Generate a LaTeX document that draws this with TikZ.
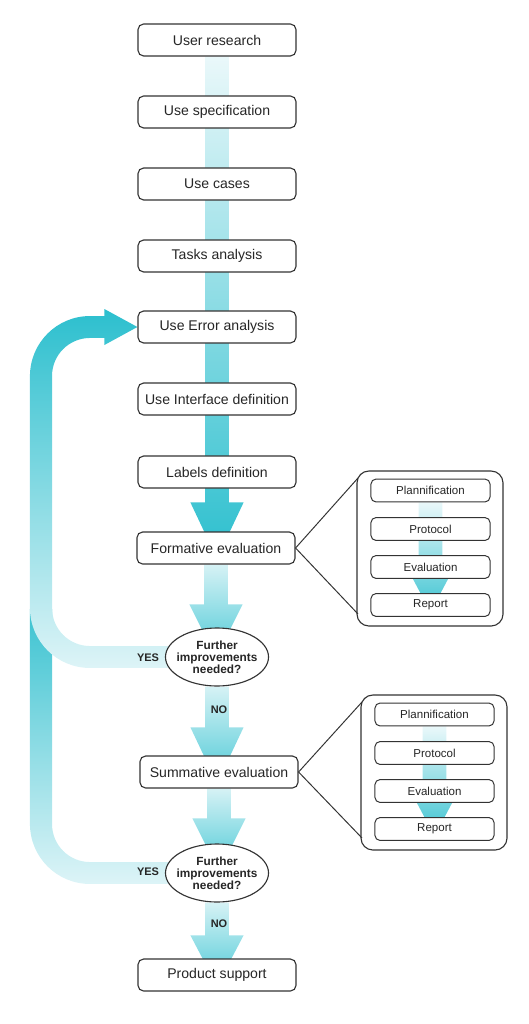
\documentclass[tikz,border=0pt]{standalone}
\usepackage{fontspec}
\setmainfont{Liberation Sans}
\usepackage{xcolor}
\usepackage{tikz}
\usetikzlibrary{shapes.geometric, positioning, backgrounds, calc}
\definecolor{flowteal}{HTML}{2CBFCE}
\definecolor{flowpale}{HTML}{EAF8FA}
\definecolor{flowmid}{HTML}{4CC9D6}
\definecolor{flowsoft}{HTML}{D6F2F5}
\definecolor{loopteal}{HTML}{3CC3D1}
\definecolor{looplight}{HTML}{DDF4F7}
\definecolor{edgegray}{HTML}{333333}
\tikzstyle{stage} = [rectangle, rounded corners=4pt, draw=edgegray, line width=0.8pt, fill=white, minimum width=3.95cm, minimum height=0.8cm, text centered, text=black!85, font=\fontsize{10}{12}\selectfont]
\tikzstyle{substage} = [rectangle, rounded corners=3.5pt, draw=edgegray, line width=0.7pt, fill=white, minimum width=2.975cm, minimum height=0.57cm, text centered, text=black!85, font=\fontsize{8.2}{10}\selectfont]
\tikzstyle{panel} = [rectangle, rounded corners=0.3cm, draw=edgegray, line width=0.8pt, minimum width=3.65cm, minimum height=3.875cm]
\tikzstyle{decision} = [ellipse, draw=edgegray, line width=0.8pt, fill=white, minimum width=2.575cm, minimum height=1.45cm, inner sep=0pt]
\tikzstyle{dectext} = [align=center, inner sep=0pt, text=black!85, font=\fontsize{8.4}{8.6}\selectfont\bfseries]
\tikzstyle{answer} = [text=black!85, font=\fontsize{7.8}{9}\selectfont\bfseries]
\tikzstyle{zoomline} = [draw=edgegray, line width=0.7pt]
% fat arrow: from, to, bar half width, head half width, head length, head to tip, shading
\newcommand{\flowarrow}[7]{%
  \shade[#7] let \p1=(#1.south), \p2=(#2.north) in
    (\x1-#3,\y1) -- (\x1+#3,\y1) -- (\x1+#3,\y2+#5) -- (\x1+#4,\y2+#5)
    -- (\x1,\y2+#5-#6) -- (\x1-#4,\y2+#5) -- (\x1-#3,\y2+#5) -- cycle;}

\begin{document}
\begin{tikzpicture}[x=0.025cm, y=-0.025cm]
    \useasboundingbox (0,0) rectangle (528,1024);

    % Stages
    \node (research) at (217,40) [stage] {User research};
    \node (spec) at (217,112) [stage] {Use specification};
    \node (cases) at (217,184) [stage] {Use cases};
    \node (tasks) at (217,256) [stage] {Tasks analysis};
    \node (errana) at (217,327) [stage] {Use Error analysis};
    \node (uidef) at (217,399) [stage] {Use Interface definition};
    \node (labels) at (217,472) [stage] {Labels definition};
    \node (form) at (216,548) [stage] {Formative evaluation};
    \node (dec1) at (217,657) [decision, label={[dectext]center:Further\\improvements\\needed?}] {};
    \node (summ) at (219,772) [stage] {Summative evaluation};
    \node (dec2) at (217,873) [decision, label={[dectext]center:Further\\improvements\\needed?}] {};
    \node (support) at (217,975) [stage] {Product support};

    % Evaluation details
    \node (fpanel) at (430,548.5) [panel] {};
    \node (fplan) at (430.5,490.5) [substage] {Plannification};
    \node (fprot) at (430.5,529) [substage] {Protocol};
    \node (feval) at (430.5,567) [substage] {Evaluation};
    \node (frep) at (430.5,605) [substage] {Report};

    \node (spanel) at (434,772.5) [panel] {};
    \node (splan) at (434.5,714.5) [substage] {Plannification};
    \node (sprot) at (434.5,753) [substage] {Protocol};
    \node (seval) at (434.5,791) [substage] {Evaluation};
    \node (srep) at (434.5,829) [substage] {Report};

    \coordinate (ftop) at (358,478);
    \coordinate (fbot) at (358,614);
    \coordinate (stop) at (362,702);
    \coordinate (sbot) at (362,838);
    \draw [zoomline] (ftop) -- (form.east) -- (fbot);
    \draw [zoomline] (stop) -- (summ.east) -- (sbot);

    % Answers
    \node at (148,658) [answer] {YES};
    \node at (148,872) [answer] {YES};
    \node at (219,710) [answer] {NO};
    \node at (219,924) [answer] {NO};

    % Flow bands
    \begin{scope}[on background layer]
        \shade[top color=loopteal, bottom color=looplight] let \p1=(dec2.west), \p2=(dec1.west) in
            (21.3pt,\y2+34pt) -- (21.3pt,\y1-7.8pt+42.7pt) arc[start angle=180, end angle=270, radius=42.7pt]
            -- (\x1+10pt,\y1-7.8pt) -- (\x1+10pt,\y1+7.8pt)
            -- (64pt,\y1+7.8pt) arc[start angle=270, end angle=180, radius=27pt]
            -- (37pt,\y2+34pt) -- cycle;
        \shade[top color=flowteal, bottom color=looplight] let \p1=(errana.west), \p2=(dec1.west) in
            (\x1-23.5pt,\y1+7.8pt) -- (64pt,\y1+7.8pt) arc[start angle=90, end angle=180, radius=42.7pt]
            -- (21.3pt,\y2-7.8pt+42.7pt) arc[start angle=180, end angle=270, radius=42.7pt]
            -- (\x2+10pt,\y2-7.8pt) -- (\x2+10pt,\y2+7.8pt)
            -- (64pt,\y2+7.8pt) arc[start angle=270, end angle=180, radius=27pt]
            -- (37pt,\y1-7.8pt-27pt) arc[start angle=180, end angle=90, radius=27pt]
            -- (\x1-23.5pt,\y1-7.8pt) -- (\x1-23.5pt,\y1-12.8pt) -- (\x1,\y1)
            -- (\x1-23.5pt,\y1+12.8pt) -- cycle;
        \flowarrow{research}{form}{8.5pt}{18.9pt}{20.6pt}{40pt}{top color=flowpale, bottom color=flowteal}
        \flowarrow{form}{dec1}{8.5pt}{18.9pt}{16.4pt}{38pt}{top color=flowsoft, bottom color=flowmid}
        \flowarrow{dec1}{summ}{8.5pt}{18.9pt}{20pt}{40pt}{top color=flowsoft, bottom color=flowmid}
        \flowarrow{summ}{dec2}{8.5pt}{18.9pt}{17.8pt}{38pt}{top color=flowsoft, bottom color=flowmid}
        \flowarrow{dec2}{support}{8.5pt}{18.9pt}{16.4pt}{36pt}{top color=flowsoft, bottom color=flowmid}
        \flowarrow{fplan}{frep}{8.5pt}{13.2pt}{11.4pt}{25pt}{top color=flowpale, bottom color=loopteal}
        \flowarrow{splan}{srep}{8.5pt}{13.2pt}{11.4pt}{25pt}{top color=flowpale, bottom color=loopteal}
    \end{scope}
\end{tikzpicture}
\end{document}
